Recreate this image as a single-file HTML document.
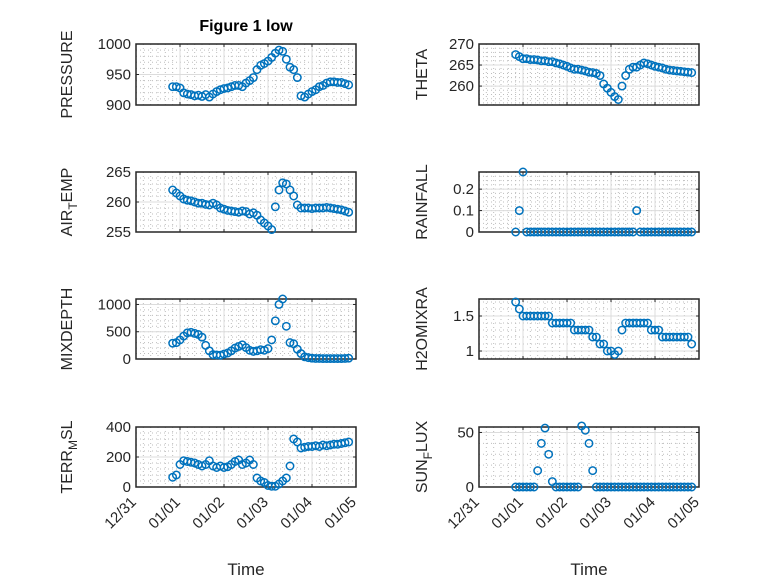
<!DOCTYPE html>
<html><head><meta charset="utf-8"><style>
html,body{margin:0;padding:0;background:#fff;}
svg{display:block;font-family:"Liberation Sans","DejaVu Sans",sans-serif;}
</style></head><body>
<svg id="fig" width="778" height="583" viewBox="0 0 778 583" xmlns="http://www.w3.org/2000/svg">
<rect width="778" height="583" fill="#fff"/>
<text x="246" y="31" text-anchor="middle" font-size="16" font-weight="bold" fill="#000">Figure 1 low</text>
</svg>
<script>
// time in hours since 12/31 00:00
const hours = [20,22,24,26,28,30,32,34,36,38,40,42,44,46,48,50,52,54,56,58,60,62,64,66,68,70,72,74,76,78,80,82,84,86,88,90,92,94,96,98,100,102,104,106,108,110,112,114,116];
const xTickLabels = ["12/31","01/01","01/02","01/03","01/04","01/05"];
const pressure = [930,930,928,920,918,917,915,916,914,917,913,918,922,925,927,928,930,932,932,930,936,940,945,958,965,968,972,978,985,990,988,975,962,958,945,915,913,918,922,925,930,932,936,938,938,937,937,935,933];
const theta = [267.5,267,266.5,266.5,266.3,266.3,266.2,266,266,265.8,265.8,265.5,265.3,265,264.7,264.3,264,264,263.8,263.6,263.3,263.2,263,262.5,260.5,259.5,258.5,257.5,256.8,260,262.5,264,264.5,264.5,265,265.5,265.3,265,264.7,264.5,264.3,264,263.8,263.7,263.6,263.5,263.4,263.3,263.2];
const airTemp = [262,261.5,261,260.5,260.3,260.2,260,259.8,259.8,259.6,259.5,259.8,259.5,259,258.8,258.6,258.5,258.4,258.3,258.5,258.4,258,258.2,257.8,257,256.5,256,255.4,259.2,262,263.2,263,262,261,259.5,259,259,259,258.9,259,259,259,259.1,259,258.9,258.8,258.7,258.5,258.3];
const rainfall = [0,0.1,0.28,0,0,0,0,0,0,0,0,0,0,0,0,0,0,0,0,0,0,0,0,0,0,0,0,0,0,0,0,0,0,0.1,0,0,0,0,0,0,0,0,0,0,0,0,0,0,0];
const mixDepth = [290,300,350,420,480,490,470,450,400,250,150,80,75,70,90,110,150,200,230,260,210,160,140,150,170,160,190,350,700,1000,1100,600,300,280,180,100,40,25,15,10,10,8,8,8,8,8,8,10,15];
const h2oMix = [1.7,1.6,1.5,1.5,1.5,1.5,1.5,1.5,1.5,1.5,1.4,1.4,1.4,1.4,1.4,1.4,1.3,1.3,1.3,1.3,1.3,1.2,1.2,1.1,1.1,1.0,1.0,0.95,1.0,1.3,1.4,1.4,1.4,1.4,1.4,1.4,1.4,1.3,1.3,1.3,1.2,1.2,1.2,1.2,1.2,1.2,1.2,1.2,1.1];
const terrMsl = [65,80,150,175,170,165,160,150,140,150,175,140,130,140,130,135,150,170,180,150,160,180,150,60,40,30,10,5,5,20,40,60,140,320,300,260,265,270,270,275,270,280,275,280,285,285,290,295,300];
const sunFlux = [0,0,0,0,0,0,15,40,54,30,5,0,0,0,0,0,0,0,56,52,40,15,0,0,0,0,0,0,0,0,0,0,0,0,0,0,0,0,0,0,0,0,0,0,0,0,0,0,0];

const NS = "http://www.w3.org/2000/svg";
const svg = document.getElementById('fig');
const C = '#262626', BLUE = '#0072BD';
function mk(tag, attrs, parent){
  const e = document.createElementNS(NS, tag);
  for (const k in attrs) e.setAttribute(k, attrs[k]);
  (parent||svg).appendChild(e); return e;
}
const panels = [
  {name:'pressure', L:136,T:44,B:105, y0:900,y1:1000, ticks:[900,950,1000], minor:10, label:['PRESSURE'], data:pressure, off:64},
  {name:'theta', L:479,T:44,B:105, y0:255.5,y1:270, ticks:[260,265,270], minor:1, label:['THETA'], data:theta, off:52},
  {name:'air-temp', L:136,T:172,B:232, y0:255,y1:265, ticks:[255,260,265], minor:1, label:['AIR','T','EMP'], data:airTemp, off:64},
  {name:'rainfall', L:479,T:172,B:232, y0:0,y1:0.28, ticks:[0,0.1,0.2], minor:0.02, label:['RAINFALL'], data:rainfall, off:52},
  {name:'mixdepth', L:136,T:299,B:359, y0:0,y1:1100, ticks:[0,500,1000], minor:100, label:['MIXDEPTH'], data:mixDepth, off:64},
  {name:'h2omixra', L:479,T:299,B:359, y0:0.886,y1:1.743, ticks:[1,1.5], minor:0.1, label:['H2OMIXRA'], data:h2oMix, off:52},
  {name:'terr-msl', L:136,T:427,B:487, y0:0,y1:400, ticks:[0,200,400], minor:40, label:['TERR','M','SL'], data:terrMsl, off:64},
  {name:'sun-flux', L:479,T:427,B:487, y0:0,y1:55, ticks:[0,50], minor:10, label:['SUN','F','LUX'], data:sunFlux, off:52},
];
const W = 220;
panels.forEach((p, pi) => {
  const g = mk('g', {});
  
  
  const xs = h => p.L + (h/24) * (W/5);
  const ys = v => p.B - (v - p.y0) / (p.y1 - p.y0) * (p.B - p.T);
  for (let h = 4; h < 120; h += 4) {
    if (h % 24 === 0) continue;
    mk('line', {x1:xs(h),x2:xs(h),y1:p.T,y2:p.B,stroke:'#bdbdbd','stroke-width':1,'stroke-dasharray':'1 3'}, g);
  }
  for (let v = Math.ceil(p.y0/p.minor)*p.minor; v < p.y1; v += p.minor) {
    const y = ys(v);
    if (y <= p.T+0.5 || y >= p.B-0.5) continue;
    mk('line', {x1:p.L,x2:p.L+W,y1:y,y2:y,stroke:'#bdbdbd','stroke-width':1,'stroke-dasharray':'1 3'}, g);
  }
  for (let d = 1; d < 5; d++) mk('line', {x1:xs(d*24),x2:xs(d*24),y1:p.T,y2:p.B,stroke:'#dcdcdc','stroke-width':1}, g);
  p.ticks.forEach(v => { const y = ys(v); if (y > p.T+1 && y < p.B-1) mk('line', {x1:p.L,x2:p.L+W,y1:y,y2:y,stroke:'#dcdcdc','stroke-width':1}, g); });
  mk('rect', {x:p.L,y:p.T,width:W,height:p.B-p.T,fill:'none',stroke:C,'stroke-width':1.5}, g);
  for (let d = 0; d <= 5; d++) {
    mk('line', {x1:xs(d*24),x2:xs(d*24),y1:p.B,y2:p.B-3,stroke:C,'stroke-width':1}, g);
    mk('line', {x1:xs(d*24),x2:xs(d*24),y1:p.T,y2:p.T+3,stroke:C,'stroke-width':1}, g);
  }
  p.ticks.forEach(v => {
    const y = ys(v);
    mk('line', {x1:p.L,x2:p.L+3,y1:y,y2:y,stroke:C,'stroke-width':1}, g);
    mk('line', {x1:p.L+W,x2:p.L+W-3,y1:y,y2:y,stroke:C,'stroke-width':1}, g);
    const t = mk('text', {x:p.L-5,y:y+5,'text-anchor':'end','font-size':15,fill:C}, g);
    
    
    t.textContent = String(v);
  });
  const lx = p.L - p.off, ly = (p.T + p.B)/2;
  const yl = mk('text', {x:lx,y:ly,'text-anchor':'middle','font-size':16,fill:C,transform:`rotate(-90 ${lx} ${ly})`}, g);
  
  
  if (p.label.length === 1) yl.textContent = p.label[0];
  else {
    const a = mk('tspan', {}, yl); a.textContent = p.label[0];
    const b = mk('tspan', {dy:5,'font-size':12}, yl); b.textContent = p.label[1];
    const c = mk('tspan', {dy:-5}, yl); c.textContent = p.label[2];
  }
  if (pi >= 6) {
    xTickLabels.forEach((s, d) => {
      const x = xs(d*24) + 1, y = 503;
      const t = mk('text', {x:x,y:y,'text-anchor':'end','font-size':15,fill:C,transform:`rotate(-45 ${x} ${y})`}, g);
      
      
      t.textContent = s;
    });
    const xt = mk('text', {x:p.L+W/2,y:575,'text-anchor':'middle','font-size':17,fill:C}, g);
    
    
    xt.textContent = 'Time';
  }
  p.data.forEach((v, i) => {
    const c = mk('circle', {cx:xs(hours[i]),cy:ys(v),r:3.7,fill:'none',stroke:BLUE,'stroke-width':1.5}, g);
    
    
  });
});
</script>
</body></html>
